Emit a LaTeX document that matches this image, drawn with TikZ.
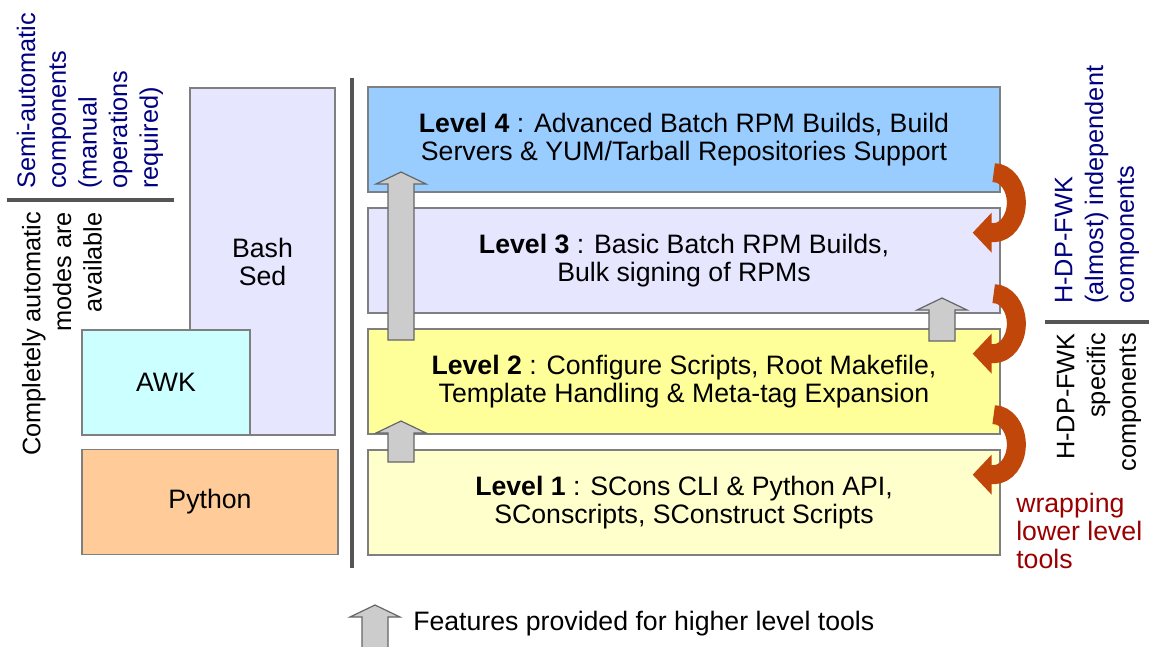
\documentclass[tikz,border=0pt]{standalone}
\usepackage{fontspec}
\setmainfont{Liberation Sans}
\usetikzlibrary{arrows.meta,calc,positioning}

\definecolor{lvlfour}{HTML}{99CCFF}
\definecolor{lvlthree}{HTML}{E6E6FF}
\definecolor{lvltwo}{HTML}{FFFF99}
\definecolor{lvlone}{HTML}{FFFFCC}
\definecolor{awkfill}{HTML}{CCFFFF}
\definecolor{pyfill}{HTML}{FFCC99}
\definecolor{boxline}{HTML}{7F7F7F}
\definecolor{sepline}{HTML}{555555}
\definecolor{featfill}{HTML}{CCCCCC}
\definecolor{featline}{HTML}{666666}
\definecolor{wrapcol}{HTML}{C0460A}
\definecolor{navy}{HTML}{000080}
\definecolor{wrapred}{HTML}{990000}

\begin{document}
\begin{tikzpicture}[x=0.75pt,y=-0.75pt,>=stealth,node distance=11pt]
    \tikzstyle{box}=[rectangle,draw=boxline,line width=1pt,align=center,inner sep=0pt,font=\fontsize{20}{21}\selectfont]
    \tikzstyle{lvl}=[box,minimum width=474pt,minimum height=78.75pt]
    \tikzstyle{side}=[rotate=90,inner sep=0pt,font=\fontsize{19}{23}\selectfont]
    \tikzstyle{sep}=[draw=sepline,line width=3pt]
    \tikzstyle{feat}=[fill=featfill,draw=featline,line width=0.9pt]
    \tikzstyle{wrap}=[draw=wrapcol,line width=14.25pt,-{Triangle[length=14.25pt,width=29.25pt]}]

    \useasboundingbox (0,0) rectangle (1149,646);

    \node[lvl,fill=lvlfour] (l4) at (684,139.5) {\textbf{Level 4} : Advanced Batch RPM Builds, Build\\Servers \& YUM/Tarball Repositories Support};
    \node[lvl,fill=lvlthree,below=of l4] (l3) {\textbf{Level 3} : Basic Batch RPM Builds,\\Bulk signing of RPMs};
    \node[lvl,fill=lvltwo,below=of l3] (l2) {\textbf{Level 2} : Configure Scripts, Root Makefile,\\Template Handling \& Meta-tag Expansion};
    \node[lvl,fill=lvlone,below=of l2] (l1) {\textbf{Level 1} : SCons CLI \& Python API,\\SConscripts, SConstruct Scripts};

    \node[box,fill=lvlthree,minimum width=108.75pt,minimum height=260.25pt] (bash) at (262.5,261.5) {Bash\\Sed};
    \node[box,fill=awkfill,minimum width=126pt,minimum height=78.75pt] (awk) at (166,382.5) {AWK};
    \node[box,fill=pyfill,minimum width=192pt,minimum height=78.75pt] (python) at (210,502) {Python};

    \draw[sep] (352,78) -- (352,568);
    \draw[sep] (7,200) -- (174,200);
    \draw[sep] (1045,322) -- (1149,322);

    \node[side,text=navy,align=left,anchor=west] (semi) at (90,189) {Semi-automatic\\components\\(manual\\operations\\required)};
    \node[side,align=right,anchor=east] (auto) at (62,212) {Completely automatic\\modes are\\available};
    \node[side,text=navy,align=left,anchor=west] (indep) at (1097,304) {H-DP-FWK\\(almost) independent\\components};
    \node[side,align=right,anchor=east] (spec) at (1099,333) {H-DP-FWK\\specific\\components};
    \node[anchor=base west,inner sep=0pt,text=wrapred,align=left,font=\fontsize{20}{21}\selectfont] (wrapping) at (1016,568) {wrapping\\lower level\\tools};

    \foreach \xa/\ya/\yb in {401/172/340,401/421/462,942/298/341,375/605/650}
      \draw[feat] (\xa-13,\yb) -- (\xa-13,\ya+12) -- (\xa-25,\ya+12) -- (\xa,\ya) -- (\xa+25,\ya+12) -- (\xa+13,\ya+12) -- (\xa+13,\yb) -- cycle;
    \node[anchor=base west,inner sep=0pt,font=\fontsize{20}{21}\selectfont] (legend) at (413,630) {Features provided for higher level tools};

    \foreach \a in {l4,l3,l2}
      \draw[wrap] ([shift={(-7,-20)}]\a.south east) arc[start angle=90,end angle=-90,x radius=17pt,y radius=22.5pt] -- ++(-21,0);
  \end{tikzpicture}
\end{document}
